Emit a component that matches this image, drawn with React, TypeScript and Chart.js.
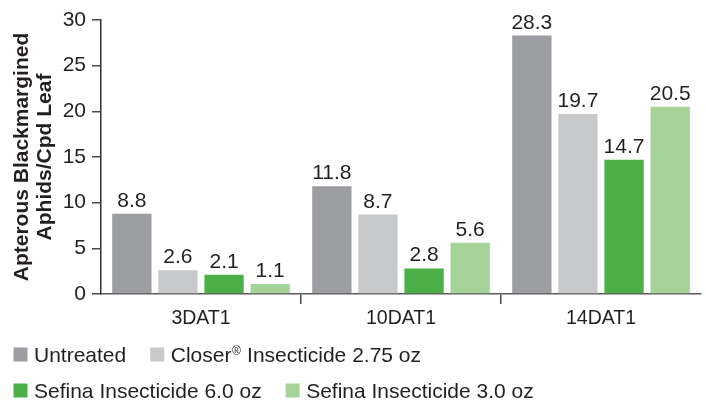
import React, { useEffect, useRef } from "react";
import { Chart, registerables } from "chart.js";

Chart.register(...registerables);

const FONT = "'Liberation Sans', Arial, Helvetica, sans-serif";

const categories = ["3DAT1", "10DAT1", "14DAT1"];
const seriesNames = [
  "Untreated",
  "Closer® Insecticide 2.75 oz",
  "Sefina Insecticide 6.0 oz",
  "Sefina Insecticide 3.0 oz",
];
const untreated = [8.8, 11.8, 28.3];
const closer = [2.6, 8.7, 19.7];
const sefina60 = [2.1, 2.8, 14.7];
const sefina30 = [1.1, 5.6, 20.5];
const yTicks = [0, 5, 10, 15, 20, 25, 30];
const yTitle = ["Apterous Blackmargined", "Aphids/Cpd Leaf"];
const colors = ["#9d9ea1", "#c8c9cb", "#4caf47", "#a6d399"];
const legendRows = [
  [0, 1],
  [2, 3],
];

const TEXT = "#231f20";
const AXIS = "#4a4a4a";

const valueLabels = {
  id: "valueLabels",
  afterDatasetsDraw(chart: any) {
    const ctx = chart.ctx;
    ctx.save();
    ctx.font = `21px ${FONT}`;
    ctx.fillStyle = TEXT;
    ctx.textAlign = "center";
    ctx.textBaseline = "alphabetic";
    chart.data.datasets.forEach((ds: any, i: number) => {
      const meta = chart.getDatasetMeta(i);
      meta.data.forEach((bar: any, j: number) => {
        ctx.fillText(Number(ds.data[j]).toFixed(1), bar.x, bar.y - 7);
      });
    });
    ctx.restore();
  },
};

const customLegend = {
  id: "customLegend",
  afterDraw(chart: any) {
    const ctx = chart.ctx;
    const area = chart.chartArea;
    const box = 14;
    const startX = 13.5;
    const textGap = 6.5;
    const itemGap = 24;
    const baselines = [area.bottom + 67.5, area.bottom + 103.5];
    ctx.save();
    ctx.textBaseline = "alphabetic";
    ctx.textAlign = "left";
    legendRows.forEach((row, r) => {
      let x = startX;
      const base = baselines[r];
      row.forEach((idx) => {
        const ds = chart.data.datasets[idx];
        ctx.fillStyle = ds.backgroundColor;
        ctx.fillRect(x, base - box, box, box);
        x += box + textGap;
        ctx.fillStyle = TEXT;
        const parts = String(ds.label).split("®");
        parts.forEach((p, k) => {
          ctx.font = `21px ${FONT}`;
          ctx.fillText(p, x, base);
          x += ctx.measureText(p).width;
          if (k < parts.length - 1) {
            ctx.font = `12px ${FONT}`;
            ctx.fillText("®", x + 0.5, base - 7);
            x += ctx.measureText("®").width + 1;
          }
        });
        x += itemGap;
      });
    });
    ctx.restore();
  },
};

export default function App() {
  const ref = useRef<HTMLCanvasElement | null>(null);

  useEffect(() => {
    if (!ref.current) return;
    const seriesValues = [untreated, closer, sefina60, sefina30];
    const chart = new Chart(ref.current, {
      type: "bar",
      data: {
        labels: categories,
        datasets: seriesValues.map((vals, i) => ({
          label: seriesNames[i],
          data: vals,
          backgroundColor: colors[i],
          borderWidth: 0,
          categoryPercentage: 0.922,
          barPercentage: 0.853,
        })),
      },
      options: {
        animation: false,
        responsive: false,
        devicePixelRatio: 1,
        layout: { padding: { left: 0, right: 5, top: 20, bottom: 70 } },
        plugins: {
          legend: { display: false },
          tooltip: { enabled: false },
        },
        scales: {
          x: {
            afterFit: (s: any) => {
              s.height = 37;
            },
            grid: {
              offset: true,
              drawOnChartArea: false,
              drawTicks: true,
              tickLength: 10,
              lineWidth: 1.5,
              color: (c: any) =>
                c.index === 1 || c.index === 2 ? AXIS : "rgba(0,0,0,0)",
            },
            border: { display: true, color: "#5a5a5a", width: 1.5 },
            ticks: {
              padding: 3,
              color: TEXT,
              font: { family: FONT, size: 19.5 },
            },
          },
          y: {
            min: 0,
            max: 30,
            afterFit: (s: any) => {
              s.width = 101;
            },
            afterBuildTicks: (s: any) => {
              s.ticks = yTicks.map((v) => ({ value: v }));
            },
            grid: {
              drawOnChartArea: false,
              drawTicks: true,
              tickLength: 9,
              lineWidth: 1.5,
              color: AXIS,
            },
            border: { display: true, color: "#333333", width: 1.5 },
            ticks: {
              padding: 6,
              color: TEXT,
              font: { family: FONT, size: 21 },
            },
            title: {
              display: true,
              text: yTitle,
              color: TEXT,
              padding: { top: 10.5, bottom: 0 },
              font: { family: FONT, size: 21, weight: "bold", lineHeight: 1.1 },
            },
          },
        },
      },
      plugins: [valueLabels, customLegend],
    });
    return () => chart.destroy();
  }, []);

  return (
    <div
      style={{
        position: "fixed",
        left: 0,
        top: 0,
        width: 706,
        height: 401,
        background: "#ffffff",
      }}
    >
      <canvas ref={ref} width={706} height={401} style={{ display: "block" }} />
    </div>
  );
}
